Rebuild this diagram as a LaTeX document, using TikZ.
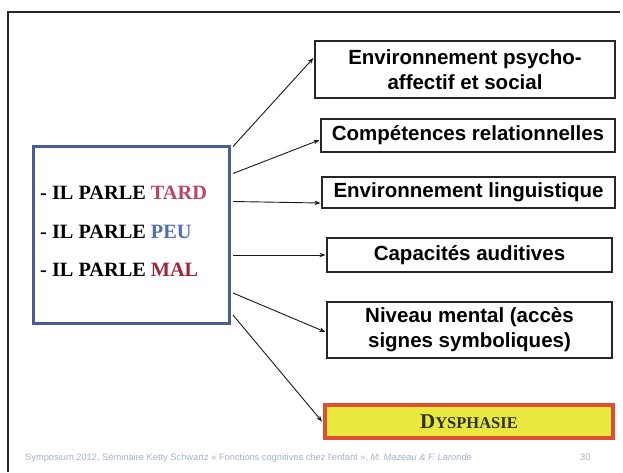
\documentclass[tikz,border=0pt]{standalone}
\usepackage{fontspec}
\setmainfont{Liberation Serif}
\newfontfamily\arialf{Liberation Sans}
\usetikzlibrary{arrows.meta}
\definecolor{bluebord}{RGB}{72,92,150}
\definecolor{tardc}{RGB}{185,70,95}
\definecolor{peuc}{RGB}{80,110,180}
\definecolor{malc}{RGB}{165,35,55}
\definecolor{dysfill}{RGB}{232,232,62}
\definecolor{dysbord}{RGB}{222,78,48}
\definecolor{dystext}{RGB}{45,50,25}
\definecolor{footc}{RGB}{165,178,200}
\tikzset{
  rbox/.style={draw=black!85, line width=1.1pt, inner sep=0pt, align=center,
    font=\arialf\bfseries\fontsize{20.5}{25}\selectfont},
  bluebox/.style={draw=bluebord, line width=3pt, inner sep=0pt},
  parle/.style={anchor=base west, inner sep=0pt, font=\bfseries\fontsize{20.3}{24}\selectfont},
  arr/.style={line width=0.9pt, draw=black!90, -{Stealth[length=6pt,width=4.5pt]}},
  framel/.style={line width=1.4pt, draw=black!85},
  foot/.style={anchor=base west, inner sep=0pt, text=footc, font=\arialf\fontsize{9.3}{11}\selectfont}
}
\begin{document}
\begin{tikzpicture}[x=1pt,y=-1pt]
\useasboundingbox (0,0) rectangle (623,472);
\fill[white] (0,0) rectangle (623,472);
% slide frame
\draw[framel] (8,472) -- (8,12) -- (620,12);
% left box
\node[bluebox, minimum width=196pt, minimum height=177pt] (A) at (131.5,235) {};
\node[parle] (t1) at (40,199) {- IL PARLE \textcolor{tardc}{TARD}};
\node[parle] (t2) at (40,238) {- IL PARLE \textcolor{peuc}{PEU}};
\node[parle] (t3) at (40,276) {- IL PARLE \textcolor{malc}{MAL}};
% right boxes
\node[rbox, minimum width=300pt, minimum height=57pt] (b1) at (465,69.5) {Environnement psycho-\\affectif et social};
\node[rbox, minimum width=294pt, minimum height=33pt] (b2) at (468,135.5) {Compétences relationnelles};
\node[rbox, minimum width=293pt, minimum height=31pt] (b3) at (468.5,192.5) {Environnement linguistique};
\node[rbox, minimum width=285pt, minimum height=34pt] (b4) at (469.5,255) {Capacités auditives};
\node[rbox, minimum width=285pt, minimum height=56pt] (b5) at (469.5,330) {Niveau mental (accès\\signes symboliques)};
\node[draw=dysbord, fill=dysfill, line width=4pt, minimum width=288pt, minimum height=33pt, inner sep=0pt,
  text=dystext, font=\bfseries] (b6) at (469,421.5)
  {{\fontsize{21}{24}\selectfont D}{\fontsize{16.5}{24}\selectfont YSPHASIE}};
% start points on the left box
\coordinate (s1) at ([xshift=2pt,yshift=-1.5pt]A.north east);
\coordinate (s2) at ([xshift=2pt,yshift=-28.5pt]A.north east);
\coordinate (s3) at ([xshift=2pt,yshift=-56.5pt]A.north east);
\coordinate (s4) at ([xshift=2pt,yshift=-20pt]A.east);
\coordinate (s5) at ([xshift=2pt,yshift=-58pt]A.east);
\coordinate (s6) at ([xshift=2pt,yshift=-80pt]A.east);
% arrows
\draw[arr] (s1) -- ([yshift=11.5pt,xshift=-1pt]b1.west);
\draw[arr] (s2) -- ([yshift=-4.5pt,xshift=-1pt]b2.west);
\draw[arr] (s3) -- ([yshift=-10.5pt,xshift=-1pt]b3.west);
\draw[arr] (s4) -- ([xshift=-1pt]b4.west);
\draw[arr] (s5) -- ([yshift=-2pt,xshift=-1pt]b5.west);
\draw[arr] (s6) -- ([xshift=-1pt]b6.west);
% footer
\node[foot] (f1) at (25,460) {Symposium 2012, Séminaire Ketty Schwartz « Fonctions cognitives chez l'enfant », \textit{M. Mazeau \& F. Laronde}};
\node[foot] (f2) at (580,460) {30};
\end{tikzpicture}
\end{document}
